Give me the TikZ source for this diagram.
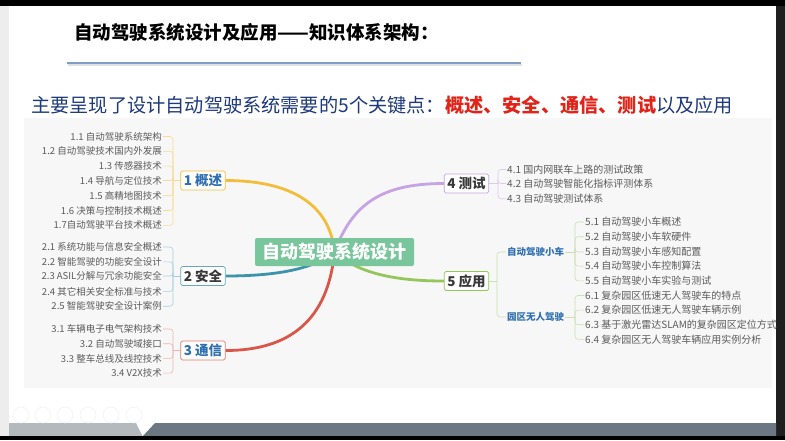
\documentclass[tikz,border=0pt]{standalone}
\usepackage{fontspec}
\setmainfont{Noto Sans CJK SC}
\usetikzlibrary{positioning,backgrounds}
\definecolor{navy}{HTML}{1E3A7B}
\definecolor{keyred}{HTML}{E2231A}
\definecolor{ruleblue}{HTML}{7F9DC6}
\definecolor{panelbg}{HTML}{F7F7F7}
\definecolor{barlight}{HTML}{B3B9BD}
\definecolor{slate}{HTML}{6B7782}
\definecolor{hubgreen}{HTML}{7AC69C}
\definecolor{topicblue}{HTML}{2F6FB0}
\definecolor{leafgray}{HTML}{5B5B5B}
\definecolor{yellowB}{HTML}{F2BD3A}
\definecolor{tealB}{HTML}{3E93AC}
\definecolor{redB}{HTML}{D9574A}
\definecolor{purpleB}{HTML}{C5A3E4}
\definecolor{greenB}{HTML}{95C65C}
\tikzset{
  hubbox/.style={fill=hubgreen,rounded corners=2pt,text=white,minimum width=159pt,minimum height=28pt,inner sep=0pt,font=\fontsize{18}{20}\selectfont\bfseries},
  topic/.style={draw,fill=white,rounded corners=1.5pt,line width=0.8pt,inner xsep=3pt,inner ysep=0pt,minimum height=19pt,text=black!78,font=\fontsize{13.5}{15}\selectfont\bfseries},
  subtopic/.style={anchor=west,inner sep=1pt,text=topicblue,font=\fontsize{9.5}{11}\selectfont\bfseries},
  leafL/.style={anchor=east,inner sep=1pt,text=leafgray,font=\fontsize{9.5}{11}\selectfont},
  leafR/.style={anchor=west,inner sep=1pt,text=leafgray,font=\fontsize{10}{11}\selectfont},
  limb/.style={line width=2.8pt},
  brk/.style={line width=0.6pt,rounded corners=3pt}
}
\begin{document}
\begin{tikzpicture}[x=1pt,y=-1pt]
\useasboundingbox (0,0) rectangle (785,440);

% headings
\node[anchor=west,inner sep=0pt,font=\fontsize{18.5}{20}\selectfont\bfseries] (title) at (74,32) {自动驾驶系统设计及应用——知识体系架构：};
\node[anchor=west,inner sep=0pt,text=navy,font=\fontsize{19.2}{22}\selectfont] (intro) at (31,105) {主要呈现了设计自动驾驶系统需要的5个关键点：\textcolor{keyred}{\bfseries 概述、安全、通信、测试}以及应用};

% hub and topics
\node[hubbox] (hub) at (334.5,252) {自动驾驶系统设计};
\node[topic,draw=yellowB,text=topicblue] (gaishu) at (203,180.5) {1 概述};
\node[topic,draw=tealB!80] (anquan) at (203,276) {2 安全};
\node[topic,draw=redB!80,text=topicblue] (tongxin) at (203,350.5) {3 通信};
\node[topic,draw=purpleB] (ceshi) at (466.5,183.5) {4 测试};
\node[topic,draw=greenB] (yingyong) at (466.5,281) {5 应用};

% 1
\node[leafL] (gs1) at (163,136.5) {1.1 自动驾驶系统架构};
\node[leafL] (gs2) at (163,151.3) {1.2 自动驾驶技术国内外发展};
\node[leafL] (gs3) at (163,166.1) {1.3 传感器技术};
\node[leafL] (gs4) at (163,180.5) {1.4 导航与定位技术};
\node[leafL] (gs5) at (163,195.7) {1.5 高精地图技术};
\node[leafL] (gs6) at (163,210.5) {1.6 决策与控制技术概述};
\node[leafL] (gs7) at (163,225.3) {1.7自动驾驶平台技术概述};
% 2
\node[leafL] (aq1) at (163,247) {2.1 系统功能与信息安全概述};
\node[leafL] (aq2) at (163,261.8) {2.2 智能驾驶的功能安全设计};
\node[leafL] (aq3) at (163,276) {2.3 ASIL分解与冗余功能安全};
\node[leafL] (aq4) at (163,291.4) {2.4 其它相关安全标准与技术};
\node[leafL] (aq5) at (163,306.2) {2.5 智能驾驶安全设计案例};
% 3
\node[leafL] (tx1) at (163,329) {3.1 车辆电子电气架构技术};
\node[leafL] (tx2) at (163,343.7) {3.2 自动驾驶域接口};
\node[leafL] (tx3) at (163,358.4) {3.3 整车总线及线控技术};
\node[leafL] (tx4) at (163,373.1) {3.4 V2X技术};
% 4
\node[leafR] (cs1) at (506,169.5) {4.1 国内网联车上路的测试政策};
\node[leafR] (cs2) at (506,183.5) {4.2 自动驾驶智能化指标评测体系};
\node[leafR] (cs3) at (506,198.7) {4.3 自动驾驶测试体系};
% 5
\node[subtopic] (xiaoche) at (506,252) {自动驾驶小车};
\node[subtopic] (yuanqu) at (506,317) {园区无人驾驶};
\node[leafR] (xc1) at (584,222) {5.1 自动驾驶小车概述};
\node[leafR] (xc2) at (584,236.7) {5.2 自动驾驶小车软硬件};
\node[leafR] (xc3) at (584,252) {5.3 自动驾驶小车感知配置};
\node[leafR] (xc4) at (584,266.1) {5.4 自动驾驶小车控制算法};
\node[leafR] (xc5) at (584,280.8) {5.5 自动驾驶小车实验与测试};
\node[leafR] (yq1) at (584,295.5) {6.1 复杂园区低速无人驾驶车的特点};
\node[leafR] (yq2) at (584,310.1) {6.2 复杂园区低速无人驾驶车辆示例};
\node[leafR] (yq3) at (584,324.7) {6.3 基于激光雷达SLAM的复杂园区定位方式};
\node[leafR] (yq4) at (584,339.3) {6.4 复杂园区无人驾驶车辆应用实例分析};

% brackets
\coordinate (jgs) at (173,180.5);
\coordinate (jaq) at (173,276);
\coordinate (jtx) at (173,350.5);
\coordinate (jcs) at (498,183.5);
\coordinate (jyy) at (497,281);
\coordinate (jxc) at (575,252);
\coordinate (jyq) at (575,317);
\draw[brk,yellowB!55] (gaishu.west) -- (jgs);
\foreach \n in {gs1,gs2,gs3,gs4,gs5,gs6,gs7} \draw[brk,yellowB!55] (jgs) |- (\n.east);
\draw[brk,tealB!45] (anquan.west) -- (jaq);
\foreach \n in {aq1,aq2,aq3,aq4,aq5} \draw[brk,tealB!45] (jaq) |- (\n.east);
\draw[brk,redB!45] (tongxin.west) -- (jtx);
\foreach \n in {tx1,tx2,tx3,tx4} \draw[brk,redB!45] (jtx) |- (\n.east);
\draw[brk,purpleB!60] (ceshi.east) -- (jcs);
\foreach \n in {cs1,cs2,cs3} \draw[brk,purpleB!60] (jcs) |- (\n.west);
\draw[brk,greenB!50] (yingyong.east) -- (jyy);
\foreach \n in {xiaoche,yuanqu} \draw[brk,greenB!50] (jyy) |- (\n.west);
\draw[brk,greenB!50] (xiaoche.east) -- (jxc);
\foreach \n in {xc1,xc2,xc3,xc4,xc5} \draw[brk,greenB!50] (jxc) |- (\n.west);
\draw[brk,greenB!50] (yuanqu.east) -- (jyq);
\foreach \n in {yq1,yq2,yq3,yq4} \draw[brk,greenB!50] (jyq) |- (\n.west);

\begin{scope}[on background layer]
% slide frame
\fill[white] (0,0) rectangle (785,440);
\fill[black] (0,0) rectangle (785,6);
\fill[black!7] (0,6) rectangle (9,436);
\fill[black!88] (776,6) rectangle (785,440);
\fill[panelbg] (24,118) rectangle (772,388);
\draw[black!12,line width=1.5pt] (68,65) -- (522,65);
\draw[ruleblue,line width=1.6pt] (67,63) -- (521,63);
\fill[barlight] (9,423) -- (136,423) -- (142.5,436) -- (9,436) -- cycle;
\fill[slate] (155,423) -- (776,423) -- (776,436) -- (143,436) -- cycle;
\fill[black] (0,436) rectangle (785,440);
\foreach \cx in {21,43,65,88,111,134} \draw[black!6,line width=0.5pt] (\cx,415) circle (8);
% limbs
\draw[limb,yellowB] (gaishu.east) .. controls (292,180.5) and (330,205) .. (hub.center);
\draw[limb,tealB] (anquan.east) .. controls (280,276) and (315,268) .. (hub.center);
\draw[limb,redB] (tongxin.east) .. controls (290,350.5) and (328,320) .. (hub.center);
\draw[limb,purpleB] (hub.center) .. controls (352,205) and (380,183.5) .. (ceshi.west);
\draw[limb,greenB] (hub.center) .. controls (360,275) and (400,281) .. (yingyong.west);
\end{scope}
\end{tikzpicture}
\end{document}
